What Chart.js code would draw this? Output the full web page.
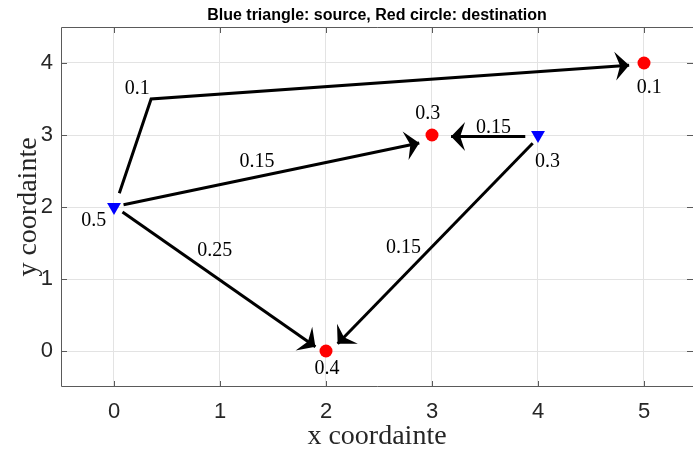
<!DOCTYPE html>
<html>
<head>
<meta charset="utf-8">
<script src="https://cdn.jsdelivr.net/npm/chart.js@4"></script>
<style>
html, body { margin: 0; padding: 0; overflow: hidden; background: #fff; }
</style>
</head>
<body>
<canvas id="myChart" width="693" height="451"></canvas>
<script>
// tick values
var xTicks = [0, 1, 2, 3, 4, 5];
var yTicks = [0, 1, 2, 3, 4];

// sources (blue triangles)
var srcX = [0, 4];
var srcY = [2, 3];
var srcText = ['0.5', '0.3'];
var srcTextX = [-0.19, 4.09];
var srcTextY = [1.81, 2.63];

// destinations (red circles)
var dstX = [2, 3, 5];
var dstY = [0, 3, 4];
var dstText = ['0.4', '0.3', '0.1'];
var dstTextX = [2.01, 2.96, 5.05];
var dstTextY = [-0.25, 3.3, 3.66];

// flows, each path ends at the arrow tip
var flowX = [
    [0.05, 0.35, 4.86],
    [0.09, 2.88],
    [0.08, 1.90],
    [3.88, 3.18],
    [3.95, 2.11]
];
var flowY = [
    [2.19, 3.5, 3.97],
    [2.03, 2.89],
    [1.93, 0.06],
    [2.98, 2.98],
    [2.885, 0.10]
];
var flowText = ['0.1', '0.15', '0.25', '0.15', '0.15'];
var flowTextX = [0.22, 1.35, 0.95, 3.58, 2.73];
var flowTextY = [3.64, 2.63, 1.39, 3.10, 1.43];


function pts(xs, ys) {
    return xs.map(function (x, i) { return {x: x, y: ys[i]}; });
}

var datasets = flowX.map(function (xs, i) {
    return {
        data: pts(xs, flowY[i]),
        showLine: true,
        borderColor: '#000',
        borderWidth: 3,
        pointRadius: 0,
        order: 2
    };
});
datasets.push({
    data: pts(srcX, srcY),
    pointStyle: 'triangle',
    pointRotation: 180,
    pointRadius: 8,
    pointBackgroundColor: '#0000ff',
    pointBorderWidth: 0,
    order: 1
});
datasets.push({
    data: pts(dstX, dstY),
    pointStyle: 'circle',
    pointRadius: 6.5,
    pointBackgroundColor: '#ff0000',
    pointBorderWidth: 0,
    order: 1
});

function arrowHead(ctx, x0, y0, x1, y1) {
    var a = Math.atan2(y1 - y0, x1 - x0);
    var L = 14, W = 14.5;
    ctx.save();
    ctx.translate(x1, y1);
    ctx.rotate(a);
    ctx.beginPath();
    ctx.moveTo(0, 0);
    ctx.lineTo(-L, -W);
    ctx.lineTo(-L * 0.65, 0);
    ctx.lineTo(-L, W);
    ctx.closePath();
    ctx.fill();
    ctx.restore();
}

var extras = {
    id: 'extras',
    afterDatasetsDraw: function (chart) {
        var ctx = chart.ctx, sx = chart.scales.x, sy = chart.scales.y;
        ctx.save();
        ctx.fillStyle = '#000';
        flowX.forEach(function (xs, i) {
            var n = xs.length, ys = flowY[i];
            arrowHead(ctx,
                sx.getPixelForValue(xs[n - 2]), sy.getPixelForValue(ys[n - 2]),
                sx.getPixelForValue(xs[n - 1]), sy.getPixelForValue(ys[n - 1]));
        });
        ctx.font = '20px "Liberation Serif"';
        ctx.textAlign = 'center';
        ctx.textBaseline = 'middle';
        function put(texts, xs, ys) {
            texts.forEach(function (t, i) {
                ctx.fillText(t, sx.getPixelForValue(xs[i]), sy.getPixelForValue(ys[i]));
            });
        }
        put(flowText, flowTextX, flowTextY);
        put(srcText, srcTextX, srcTextY);
        put(dstText, dstTextX, dstTextY);
        ctx.restore();
    },
    afterDraw: function (chart) {
        var ctx = chart.ctx, a = chart.chartArea, sx = chart.scales.x, sy = chart.scales.y;
        var tl = 6;
        ctx.save();
        ctx.strokeStyle = '#5a5a5a';
        ctx.lineWidth = 1;
        ctx.beginPath();
        // box: top, left and bottom (right side falls on the window edge)
        ctx.moveTo(a.right, a.top + 0.5); ctx.lineTo(a.left + 0.5, a.top + 0.5);
        ctx.lineTo(a.left + 0.5, a.bottom - 0.5); ctx.lineTo(a.right, a.bottom - 0.5);
        xTicks.forEach(function (v) {
            var p = Math.round(sx.getPixelForValue(v)) + 0.5;
            ctx.moveTo(p, a.bottom); ctx.lineTo(p, a.bottom - tl);
            ctx.moveTo(p, a.top); ctx.lineTo(p, a.top + tl);
        });
        yTicks.forEach(function (v) {
            var p = Math.round(sy.getPixelForValue(v)) + 0.5;
            ctx.moveTo(a.left, p); ctx.lineTo(a.left + tl, p);
            ctx.moveTo(a.right, p); ctx.lineTo(a.right - tl, p);
        });
        ctx.stroke();
        ctx.restore();
    }
};

var tickFont = {family: 'Liberation Sans', size: 22};
var titleFont = {family: 'Liberation Serif', size: 28, lineHeight: 1};

var ctx = document.getElementById('myChart').getContext('2d');
var chart = new Chart(ctx, {
    type: 'scatter',
    data: {datasets: datasets},
    plugins: [extras],
    options: {
        responsive: false,
        animation: false,
        events: [],
        layout: {padding: 0, autoPadding: false},
        plugins: {
            legend: {display: false},
            tooltip: {enabled: false},
            title: {
                display: true,
                fullSize: false,
                text: 'Blue triangle: source, Red circle: destination',
                color: '#000',
                font: {family: 'Liberation Sans', size: 16, weight: 'bold', lineHeight: 1.2},
                padding: {top: 6, bottom: 1.8}
            }
        },
        scales: {
            x: {
                type: 'linear',
                min: -0.5,
                max: 5.4623,
                afterBuildTicks: function (s) { s.ticks = xTicks.map(function (v) { return {value: v}; }); },
                afterFit: function (s) { s.height = 64; },
                grid: {color: '#e3e3e3', drawTicks: false},
                border: {display: false},
                ticks: {color: '#262626', font: tickFont, padding: 12, maxRotation: 0},
                title: {display: true, text: 'x coordainte', color: '#262626', font: titleFont, padding: {top: 0, bottom: 0}}
            },
            y: {
                type: 'linear',
                min: -0.5,
                max: 4.5,
                afterBuildTicks: function (s) { s.ticks = yTicks.map(function (v) { return {value: v}; }); },
                afterFit: function (s) { s.width = 61; },
                grid: {color: '#e3e3e3', drawTicks: false},
                border: {display: false},
                ticks: {color: '#262626', font: tickFont, padding: 8},
                title: {display: true, text: 'y coordainte', color: '#262626', font: titleFont, padding: {top: 15, bottom: 15}}
            }
        }
    }
});
</script>
</body>
</html>
